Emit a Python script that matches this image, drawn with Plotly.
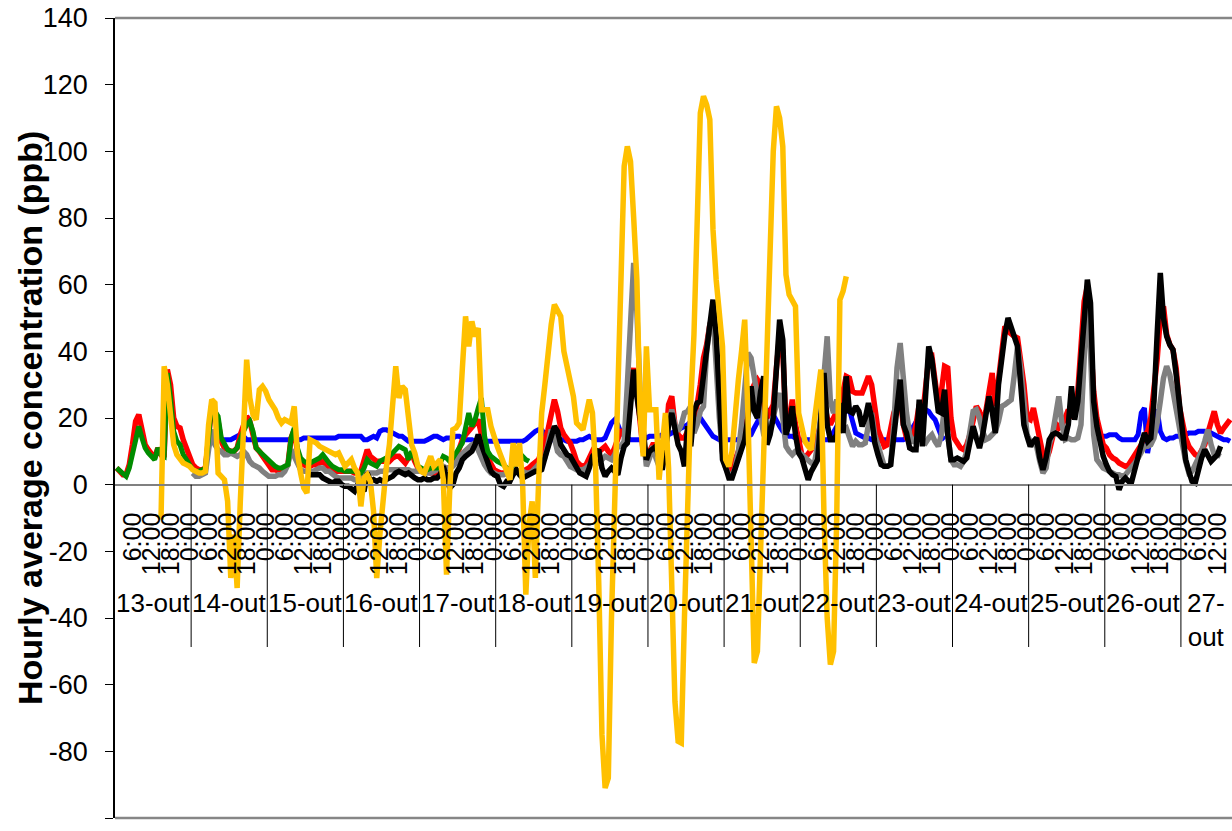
import plotly.graph_objects as go

# ---------------- data (hourly values, hour index 0 = 13-out 1:00) ----------------
DAYS = ["13-out", "14-out", "15-out", "16-out", "17-out", "18-out", "19-out",
        "20-out", "21-out", "22-out", "23-out", "24-out", "25-out", "26-out", "27-out"]
HOUR_LABELS = ["6:00", "12:00", "18:00", "0:00"]
HOUR_SLOTS = [5, 11, 17, 23]
Y_TICKS = [-100, -80, -60, -40, -20, 0, 20, 40, 60, 80, 100, 120, 140]

green_start = 0
green = [
    5, 4, 3, 2.5, 5, 9, 14, 17.5, 14, 11, 9.5, 8.5, 7.5, 11, 9, 8.5, 33.5, 26, 16, 13, 12, 9, 7.5, 5.5,
    4.5, 4, 4, 4.5, 5, 14, 24.5, 22, 20.5, 14, 12, 10.5, 10, 10, 11, 14, 16, 18, 19, 16, 11, 10, 9, 8.5,
    7, 6, 5.5, 5, 5, 5.5, 6, 14, 17, 11, 8, 7, 6.5, 6.5, 7, 7.5, 8, 9, 7.5, 6.5, 5.5, 5, 4.5, 4.5,
    4, 4, 4, 4, 3.5, 3.5, 5, 7.5, 6.5, 6, 5.5, 7, 7.5, 8, 8.5, 9.5, 10.5, 11.5, 11, 10.5, 7.5, 10, 8, 5.5,
    5, 4.5, 4.5, 5, 5, 5, 6.5, 8.5, 8, 7, 8, 9.5, 11, 12.5, 17, 21.5, 17.5, 19.5, 23, 26, 14.5, 10, 8.5, 7.5,
    7, 6.5, 6, 5, 4.5, 6, 7.5, 6.5, 8.5, 7.5, 7,
]

red_start = 0
red = [
    5, 4, 3, 3, 6, 12, 19, 21, 16, 12, 10.5, 9, 8, 11, 9, 9, 34.5, 30, 20, 17.5, 17, 13.5, 11, 9.5,
    6, 5, 4.5, 4.5, 5, 14, 24, 22, 19, 13, 11, 10.5, 10, 10, 11, 15, 18, 20.5, 19, 15, 11, 10, 8.5, 7,
    5.5, 4.5, 4.5, 4, 4, 5, 6, 14, 16.5, 10, 7, 6, 5.5, 5.5, 6, 6, 6.5, 7, 6, 5, 4.5, 4, 4, 4,
    4, 4, 4, 3.5, 3.5, 4, 8, 10.5, 8.5, 7.5, 7, 7, 7, 7.5, 7, 8, 8.5, 8.5, 7.5, 6.5, 8, 9.5, 7, 5,
    4.5, 4, 4, 3.5, 3.5, 3.5, 4, 4.5, 5, 5, 6, 8, 11, 13.5, 15, 16, 17.5, 18.5, 19.5, 15, 10, 8, 6, 4.5,
    4, 3.5, 3.5, 3.5, 3.5, 4, 4, 4, 4, 4.5, 5, 6, 7, 7.5, 10, 13, 16.5, 21, 25.5, 22, 17, 15, 13.5, 12.5,
    10, 7, 6, 5.5, 6, 8, 10, 9, 10, 11, 11.5, 10, 9, 11, 14, 16.5, 15, 18, 30, 35, 28, 18, 10, 8,
    10, 12, 12, 8, 7, 12, 24, 26.5, 18, 15, 14, 14, 16, 15, 20, 24, 30, 38, 42, 48, 50, 40, 25, 10,
    6, 4, 5, 8, 10, 12, 15, 22, 28, 30, 31.5, 30, 22, 20, 22, 24, 35, 45, 40, 18, 20, 25.5, 18, 13.5,
    9, 8, 9, 10.5, 12, 15, 18, 25, 20, 18, 20, 22, 25, 28, 32.5, 32, 28, 27.5, 27.5, 27.5, 30, 32.5, 30, 22,
    16.5, 14, 11.5, 12, 18, 21.5, 24, 26, 18, 14, 13, 14, 18, 24, 20, 30, 38, 38.5, 30, 24, 28, 35.5, 35, 20,
    14, 12.5, 11, 10.5, 12, 15, 20, 23.5, 22, 18.5, 22, 28, 33.5, 23.5, 32, 42, 47.5, 46, 45, 44.5, 44, 38, 30, 20,
    19.5, 23, 18, 12, 9, 7.5, 10, 14, 18.5, 17, 18, 20, 22.5, 20, 22, 28, 40, 55, 59.5, 45, 28, 20, 15, 12,
    11, 9, 8, 7.5, 6.5, 6, 5.5, 6, 7.5, 8.5, 10, 12, 14.5, 16, 20, 28, 37.5, 50, 53.5, 45, 42, 40.5, 35, 23.5,
    18, 14, 11.5, 10, 9, 8.5, 10, 12, 15.5, 19, 22, 18, 15.5, 17, 18.5, 19.5,
]

gray_start = 24
gray = [
    3.5, 2.5, 2.5, 3, 3.5, 10.5, 16.5, 12, 10.5, 10, 9, 9, 9.5, 9, 8.5, 9, 10, 9, 7, 6, 5.5, 5, 4, 3,
    2.5, 2.5, 2.5, 3, 3, 4, 6, 10.5, 8, 6.5, 4.5, 4, 4, 4, 4, 4.5, 5, 5, 4, 4, 3, 2.5, 2, 2,
    2, 2, 2, 1.5, 1.5, 2, 3.5, 3.5, 3.5, 3.5, 3.5, 4, 4, 4.5, 4.5, 4.5, 4.5, 4.5, 4.5, 4.5, 4.5, 4, 4, 4,
    4, 3.5, 3.5, 3.5, 4, 4.5, 5, 5.5, 5, 5, 5.5, 6.5, 8.5, 9.5, 10.5, 11.5, 12, 12.5, 10, 7.5, 6, 4.5, 3.5, 3.5,
    3, 3, 3, 3.5, 3.5, 4, 4, 4, 4, 3.5, 3.5, 4, 5, 6, 6.5, 8, 12, 16.5, 14, 10, 9, 8.5, 7, 5.5,
    5, 4.5, 4.5, 4.5, 5, 6, 7, 7, 6.5, 7.5, 8.5, 8, 7.5, 9, 11.5, 11.5, 13, 30, 50, 66.5, 52, 28, 15, 5.5,
    8, 11.5, 8, 5.5, 6, 10, 18, 22.5, 18, 16, 18, 21.5, 22, 23.5, 15.5, 18, 22, 23.5, 40, 48, 51.5, 35, 20, 9.5,
    5, 3, 2.5, 5, 10, 18, 30, 39.5, 38, 32, 25.5, 20, 15, 13.5, 17, 19.5, 23, 27.5, 20, 11.5, 10, 9, 10, 10,
    9, 8, 7, 6.5, 6.5, 12, 21.5, 35, 44.5, 25, 21.5, 25.5, 20, 16.5, 17, 14, 11.5, 13, 12, 12, 12.5, 18, 21.5, 15,
    11.5, 8, 5.5, 5.5, 6, 18, 35, 42.5, 30, 21.5, 15, 12.5, 14, 15, 13, 12.5, 14, 15, 13, 11.5, 15, 23.5, 15, 7.5,
    6, 6, 5.5, 7, 10, 16, 22, 22.5, 20, 16, 13.5, 14, 15, 16, 19, 23.5, 24, 25, 25.5, 33, 41.5, 35, 25, 15,
    13, 12, 11.5, 7, 3.5, 5, 12, 15, 20, 26.5, 18, 13.5, 14, 13.5, 13.5, 14, 18, 40, 57.5, 40, 15, 7.5, 6, 5,
    4.5, 4, 3.5, 3, 3, 2.5, 3, 4, 5, 6.5, 8, 10, 11.5, 11.5, 12, 14, 18.5, 25, 32, 35.5, 33, 28, 22, 17.5,
    12, 7, 3.5, 4, 6, 8, 10, 13, 16.5, 12, 9, 9, 8.5,
]

black_start = 60
black = [
    3, 3, 3, 3, 3, 2, 1.5, 1, 0.5, 1, 1, 0,
    -0.5, -0.5, -1.5, -2, 0, -1, -2, 3.5, 1, 1.5, 1, 1.5, 1, 1.5, 2, 2.5, 3.5, 4, 3.5, 3, 3.5, 2.5, 2, 1.5,
    1.5, 2, 1.5, 1.5, 2, 2, 3, 5.5, 2, -1, 0, 3.5, 5, 7.5, 8.5, 9.5, 10, 12, 15, 12, 9.5, 6, 4, 3,
    2.5, 0, -0.5, 1, 1, 3, 4.5, 3, 2, 2.5, 3, 3.5, 4, 4, 4.5, 8, 11.5, 14, 17.5, 16, 12, 10.5, 9, 8.5,
    7, 5, 3.5, 3, 2.5, 5, 8.5, 9.5, 10.5, 5, 2.5, 4, 5, 4, 3, 8, 11.5, 12.5, 22, 34.5, 26.5, 20, 16.5, 7.5,
    10, 11, 11.5, 8, 4.5, 10, 18, 21.5, 17, 12, 10, 5.5, 17.5, 11.5, 22, 24.5, 25, 33, 40, 48, 55.5, 45, 25, 7.5,
    5, 2, 2, 5, 8, 10, 13.5, 20, 29.5, 22, 20, 28, 32.5, 12, 15, 20, 35, 49.5, 43.5, 15, 18, 23.5, 15, 9.5,
    8, 4, 1.5, 4, 6, 7.5, 20, 33.5, 18, 13.5, 13.5, 15, 24.5, 15.5, 32.5, 22, 21.5, 23.5, 22, 17.5, 20, 24.5, 20, 12.5,
    9, 6, 5.5, 5.5, 6, 15, 21.5, 31.5, 18, 15.5, 11, 10.5, 10.5, 25.5, 11.5, 25, 41.5, 37.5, 30, 22, 21.5, 28.5, 15, 7.5,
    7.5, 8, 7.5, 7, 8, 12, 17.5, 14, 11, 15, 20, 26.5, 22, 15.5, 30, 39.5, 45, 50, 47, 44, 41.5, 30, 18, 14.5,
    11.5, 13, 14, 8, 4.5, 8, 13.5, 15, 15.5, 15, 14, 14, 18, 29.5, 19.5, 25, 38, 50, 61.5, 54.5, 25, 17.5, 12, 8.5,
    6, 4, 3, 2.5, -1.5, 1, 2, 1, 1, 5, 9.5, 12, 15.5, 13, 14, 25, 45, 63.5, 50, 44.5, 42, 40.5, 33, 24.5,
    15, 7.5, 4, 1, 0.5, 5, 8, 10.5, 9, 7, 8, 9, 11.5,
]

gold_start = 14
gold = [
    -10.5, 35.5, 30, 20.5, 12, 9, 7.5, 6.5, 6, 5.5,
    4.5, 4, 3.5, 3.5, 4, 18, 25.5, 24.5, 3.5, 2.5, 1.5, -5, -28, -15, -31, -5, 20, 37.5, 26, 21, 19.5, 28.5, 29.5, 28,
    25.5, 24, 22.5, 20, 18.5, 19.5, 19, 18.5, 23.5, 9.5, 3.5, -1, -2.5, 13.5, 13, 12.5, 11.5, 11, 10.5, 10, 9.5, 9, 9.5, 7.5,
    5.5, 6.5, 7.5, 5, 3.5, -6.5, 2, 3, 1, -8, -28, -15, -3, 5, 12, 22, 35.5, 26, 29.5, 28.5, 20, 12, 9.5, 5.5,
    4, 3.5, 6, 8.5, 5.5, 6.5, 7.5, 1.5, -27, -2, 16.5, 17, 18.5, 35, 50.5, 41.5, 49, 44.5, 47, 22.5, 22.5, 22.5, 17.5, 14,
    11.5, 9, 6.5, 4, 1.5, 12.5, 5.5, 12.5, 0, -33, -12, -5, -28, 0, 21.5, 30, 41.5, 48, 54, 52, 50.5, 40, 35.5, 30,
    26.5, 18.5, 17.5, 16.5, 21, 25.5, 21.5, 5, -30, -75, -91, -88, -40, -8, 30, 61.5, 95.5, 101.5, 97, 80, 61.5, 21.5, 8.5, 41.5,
    22.5, 22.5, 22.5, 1.5, 12, 21.5, 5, -30, -65, -77, -77.5, -40, 0, 25, 45, 86.5, 111.5, 116.5, 114, 109.5, 76.5, 61.5, 50, 41.5,
    7.5, 5.5, 10, 22, 31.5, 40, 49.5, 21.5, -20, -53.5, -50, -20, 15, 41.5, 80, 100, 113.5, 110, 101.5, 63, 57, 55, 53.5, 21.5,
    16.5, 13, 11.5, 10.5, 19.5, 26, 34.5, -10, -40, -54, -50, -10, 55.5, 58, 62.5,
]

blue_start = 33
blue = [
    13.5, 13.5, 13.5, 13.5, 14, 14.5, 15, 14.5, 13.5, 13.5, 13.5, 13.5, 13.5, 13.5, 13.5,
    13.5, 13.5, 13.5, 13.5, 13.5, 13.5, 13.5, 13.5, 13.5, 13.5, 13.5, 14, 14, 14, 14, 14, 14, 14, 14, 14, 14, 14, 14.5, 14.5,
    14.5, 14.5, 14.5, 14.5, 14.5, 14.5, 13.5, 13.5, 14, 14.5, 14, 16, 16.5, 16.5, 16, 15.5, 15, 14.5, 14.5, 13.5, 13, 13, 13, 13,
    13, 13, 13.5, 14, 14.5, 14.5, 14, 13.5, 14, 14, 14, 14.5, 14.5, 14, 13.5, 13.5, 13.5, 13, 13, 13, 13, 13, 13, 13,
    13, 13, 13, 13, 13, 13, 13, 13, 13, 13.5, 14.5, 15.5, 16, 16.5, 16.5, 15, 13.5, 13.5, 13.5, 13.5, 13.5, 13.5, 13, 13,
    13, 13, 13.5, 13.5, 14, 14.5, 14, 13.5, 13.5, 13.5, 14, 16, 18.5, 19.5, 18, 15.5, 14.5, 14, 13.5, 13.5, 13.5, 13.5, 14, 14,
    14.5, 14.5, 14.5, 14.5, 15, 15, 15, 15.5, 16, 16.5, 17, 17.5, 18, 19, 20, 20.5, 20, 18.5, 17, 15.5, 14.5, 14, 13.5, 13.5,
    13.5, 13.5, 13.5, 13.5, 13.5, 14, 14, 14.5, 15, 17, 19, 20.5, 21.5, 22, 22.5, 21, 19, 17.5, 16, 15, 14.5, 14.5, 14, 13.5,
    13.5, 13.5, 13.5, 13.5, 13.5, 13.5, 13.5, 13.5, 13.5, 14, 15.5, 17.5, 19.5, 21.5, 22, 22.5, 19, 15.5, 15, 14.5, 14, 14, 13.5, 13.5,
    13.5, 13.5, 13.5, 13.5, 13.5, 13.5, 13.5, 13.5, 13.5, 14, 15.5, 17, 18.5, 20.5, 22, 22.5, 22, 20.5, 19.5, 17, 14.5, 13.5, None, None,
    None, None, None, None, None, None, None, None, None, None, None, None,
    None, None, None, None, None, None, None, None, None, None, None, None,
    None, None, None, None, None, None, None, None, None, None, None, None,
    None, None, None, None, None, None, None, None, None, None, 14.5, 14.5,
    14.5, 15, 15, 15, 14, 13.5, 13.5, 13.5, 13.5, 13.5, 15, 21.5, 23, 9.5, 15, 20, 22.5, 16, 14, 13.5, 14, 14, 14.5, 14.5,
    15, 15, 15.5, 15.5, 15.5, 16, 16, 16, 16, 15.5, 15, 14.5, 14, 13.5, 13.5, 13,
]

# ---------------- figure ----------------
FONT = "Arial, 'Liberation Sans', sans-serif"
X_MIN, X_MAX = -0.5, 351.6
Y_MIN, Y_MAX = -100, 140

fig = go.Figure()

def add_line(start, vals, color, width):
    fig.add_trace(go.Scatter(
        x=list(range(start, start + len(vals))), y=vals, mode="lines",
        line=dict(color=color, width=width), connectgaps=False,
        hoverinfo="skip", showlegend=False))

add_line(blue_start, blue, "#0000FF", 5)
add_line(red_start, red, "#FF0000", 5.5)
add_line(gray_start, gray, "#808080", 5.5)
add_line(black_start, black, "#000000", 5.5)
add_line(green_start, green, "#008C00", 5)
add_line(gold_start, gold, "#FFC000", 5.5)

tickvals, ticktext = [], []
for d in range(len(DAYS)):
    for slot, lab in zip(HOUR_SLOTS, HOUR_LABELS):
        v = 24 * d + slot
        if v <= X_MAX:
            tickvals.append(v)
            ticktext.append(lab)

zero_pos = (0 - Y_MIN) / (Y_MAX - Y_MIN)
sep_bottom = (818 - 647) / 800.0
label_top = (818 - 586) / 800.0

shapes = []
for d in range(1, len(DAYS)):
    xb = 24 * d - 0.5
    shapes.append(dict(type="line", xref="x", yref="paper", x0=xb, x1=xb,
                       y0=zero_pos, y1=sep_bottom, line=dict(color="#000000", width=1)))
for yy in (0, 1):
    shapes.append(dict(type="line", xref="paper", yref="paper", x0=0, x1=1,
                       y0=yy, y1=yy, line=dict(color="#868686", width=2.5)))

annotations = []
for d, lab in enumerate(DAYS):
    lo = 24 * d - 0.5
    hi = min(24 * d + 23.5, X_MAX)
    txt = lab if hi - lo > 20 else lab.replace("-", "-<br>")
    annotations.append(dict(x=(lo + hi) / 2, y=label_top, xref="x", yref="paper",
                            text=txt, showarrow=False, xanchor="center", yanchor="top",
                            font=dict(family=FONT, size=26, color="#000000")))
annotations.append(dict(x=0, xshift=-85, y=0.5, xref="paper", yref="paper",
                        text="<b>Hourly average concentration (ppb)</b>", textangle=-90,
                        showarrow=False, xanchor="center", yanchor="middle",
                        font=dict(family=FONT, size=34, color="#000000")))

fig.update_layout(
    width=1232, height=831,
    margin=dict(l=115, r=0, t=18, b=13, pad=0),
    paper_bgcolor="white", plot_bgcolor="white",
    showlegend=False,
    shapes=shapes, annotations=annotations,
    xaxis=dict(range=[X_MIN, X_MAX], showgrid=False, zeroline=False,
               showline=True, linecolor="#808080", linewidth=2,
               anchor="free", position=zero_pos,
               tickmode="array", tickvals=tickvals, ticktext=ticktext,
               ticks="", tickangle=-90, ticklabelstandoff=17,
               tickfont=dict(family=FONT, size=25, color="#000000")),
    yaxis=dict(range=[Y_MIN, Y_MAX], tickmode="array", tickvals=Y_TICKS,
               ticktext=[str(v) for v in Y_TICKS],
               showgrid=False, zeroline=False,
               showline=True, linecolor="#000000", linewidth=1.5,
               ticks="outside", ticklen=8, tickwidth=1, tickcolor="#000000",
               ticklabelstandoff=12,
               tickfont=dict(family=FONT, size=27, color="#000000")),
)

fig.write_html("out.html")
